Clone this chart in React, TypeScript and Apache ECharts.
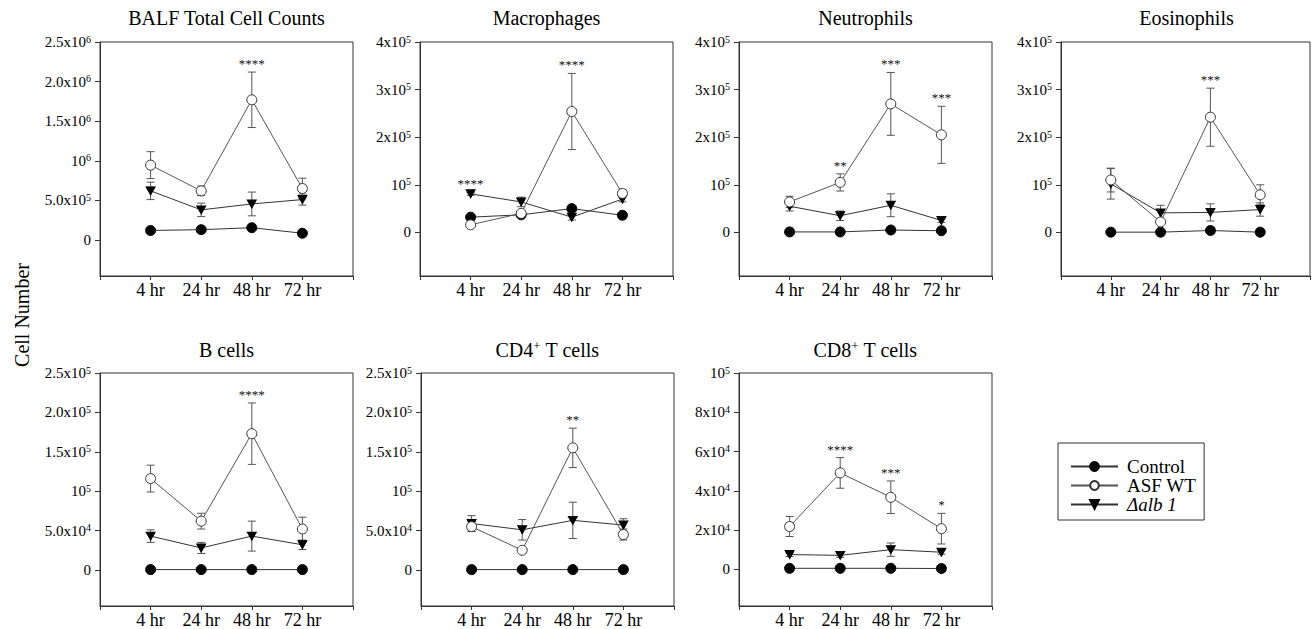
import React, { useEffect, useRef } from 'react';
import * as echarts from 'echarts';

const FONT = '"Liberation Serif", "Times New Roman", serif';

const categories = ['4 hr', '24 hr', '48 hr', '72 hr'];
const seriesNames = ['Control', 'ASF WT', 'Δalb 1'];

// BALF total
const balfControl = [1.2e5, 1.3e5, 1.55e5, 0.85e5];
const balfAsf = [9.45e5, 6.2e5, 1.77e6, 6.5e5];
const balfAsfErr = [1.7e5, 0.6e5, 3.5e5, 1.3e5];
const balfDalb = [6.2e5, 3.8e5, 4.55e5, 5.1e5];
const balfDalbErr = [1.1e5, 0.85e5, 1.5e5, 0.7e5];
const balfStars = [{ x: 3, on: 'asf', text: '****' }];
const balfTicks = [0, 5e5, 1e6, 1.5e6, 2e6, 2.5e6];
const balfTickLabels = ['0', '5.0x10^5', '10^6', '1.5x10^6', '2.0x10^6', '2.5x10^6'];

// Macrophages
const macControl = [3.2e4, 3.7e4, 5.0e4, 3.6e4];
const macAsf = [1.6e4, 4.0e4, 2.54e5, 8.2e4];
const macAsfErr = [0.2e4, 0.3e4, 8.0e4, 0.8e4];
const macDalb = [8.1e4, 6.4e4, 3.2e4, 7.0e4];
const macDalbErr = [0.3e4, 1.0e4, 0.6e4, 0.6e4];
const macStars = [{ x: 1, on: 'dalb', text: '****' }, { x: 3, on: 'asf', text: '****' }];

// Neutrophils
const neuControl = [1000, 1000, 5000, 3500];
const neuAsf = [6.4e4, 1.05e5, 2.7e5, 2.05e5];
const neuAsfErr = [1.2e4, 1.8e4, 6.6e4, 6.0e4];
const neuDalb = [5.5e4, 3.5e4, 5.7e4, 2.5e4];
const neuDalbErr = [1.0e4, 1.0e4, 2.4e4, 0.4e4];
const neuStars = [
  { x: 2, on: 'asf', text: '**' },
  { x: 3, on: 'asf', text: '***' },
  { x: 4, on: 'asf', text: '***' },
];

// Eosinophils
const eosControl = [500, 500, 4000, 500];
const eosAsf = [1.1e5, 2.2e4, 2.42e5, 7.9e4];
const eosAsfErr = [2.5e4, 0.3e4, 6.1e4, 2.1e4];
const eosDalb = [1.02e5, 4.1e4, 4.2e4, 4.8e4];
const eosDalbErr = [3.2e4, 1.6e4, 1.8e4, 1.4e4];
const eosStars = [{ x: 3, on: 'asf', text: '***' }];

const e5Ticks = [0, 1e5, 2e5, 3e5, 4e5];
const e5TickLabels = ['0', '10^5', '2x10^5', '3x10^5', '4x10^5'];

// B cells
const bControl = [500, 500, 500, 500];
const bAsf = [1.16e5, 6.2e4, 1.73e5, 5.2e4];
const bAsfErr = [1.7e4, 1.0e4, 3.9e4, 1.5e4];
const bDalb = [4.3e4, 2.8e4, 4.3e4, 3.2e4];
const bDalbErr = [0.8e4, 0.7e4, 1.9e4, 0.6e4];
const bStars = [{ x: 3, on: 'asf', text: '****' }];

// CD4 T cells
const cd4Control = [500, 500, 500, 500];
const cd4Asf = [5.5e4, 2.5e4, 1.55e5, 4.5e4];
const cd4AsfErr = [0.6e4, 0, 2.5e4, 0.7e4];
const cd4Dalb = [5.9e4, 5.1e4, 6.3e4, 5.7e4];
const cd4DalbErr = [1.0e4, 1.3e4, 2.3e4, 0.8e4];
const cd4Stars = [{ x: 3, on: 'asf', text: '**' }];

const e25Ticks = [0, 5e4, 1e5, 1.5e5, 2e5, 2.5e5];
const e25TickLabels = ['0', '5.0x10^4', '10^5', '1.5x10^5', '2.0x10^5', '2.5x10^5'];

// CD8 T cells
const cd8Control = [500, 500, 500, 400];
const cd8Asf = [2.18e4, 4.91e4, 3.67e4, 2.07e4];
const cd8AsfErr = [0.51e4, 0.78e4, 0.83e4, 0.78e4];
const cd8Dalb = [0.75e4, 0.71e4, 1.0e4, 0.87e4];
const cd8DalbErr = [0.1e4, 0.1e4, 0.34e4, 0.1e4];
const cd8Stars = [
  { x: 2, on: 'asf', text: '****' },
  { x: 3, on: 'asf', text: '***' },
  { x: 4, on: 'asf', text: '*' },
];
const cd8Ticks = [0, 2e4, 4e4, 6e4, 8e4, 1e5];
const cd8TickLabels = ['0', '2x10^4', '4x10^4', '6x10^4', '8x10^4', '10^5'];

const panels = [
  { title: 'BALF Total Cell Counts', ctrl: balfControl, asf: balfAsf, asfErr: balfAsfErr, dalb: balfDalb, dalbErr: balfDalbErr, stars: balfStars, ticks: balfTicks, labels: balfTickLabels, min: -4.55e5, max: 2.5e6 },
  { title: 'Macrophages', ctrl: macControl, asf: macAsf, asfErr: macAsfErr, dalb: macDalb, dalbErr: macDalbErr, stars: macStars, ticks: e5Ticks, labels: e5TickLabels, min: -0.916e5, max: 4e5 },
  { title: 'Neutrophils', ctrl: neuControl, asf: neuAsf, asfErr: neuAsfErr, dalb: neuDalb, dalbErr: neuDalbErr, stars: neuStars, ticks: e5Ticks, labels: e5TickLabels, min: -0.916e5, max: 4e5 },
  { title: 'Eosinophils', ctrl: eosControl, asf: eosAsf, asfErr: eosAsfErr, dalb: eosDalb, dalbErr: eosDalbErr, stars: eosStars, ticks: e5Ticks, labels: e5TickLabels, min: -0.916e5, max: 4e5 },
  { title: 'B cells', ctrl: bControl, asf: bAsf, asfErr: bAsfErr, dalb: bDalb, dalbErr: bDalbErr, stars: bStars, ticks: e25Ticks, labels: e25TickLabels, min: -0.457e5, max: 2.5e5 },
  { title: 'CD4^+ T cells', ctrl: cd4Control, asf: cd4Asf, asfErr: cd4AsfErr, dalb: cd4Dalb, dalbErr: cd4DalbErr, stars: cd4Stars, ticks: e25Ticks, labels: e25TickLabels, min: -0.457e5, max: 2.5e5 },
  { title: 'CD8^+ T cells', ctrl: cd8Control, asf: cd8Asf, asfErr: cd8AsfErr, dalb: cd8Dalb, dalbErr: cd8DalbErr, stars: cd8Stars, ticks: cd8Ticks, labels: cd8TickLabels, min: -1.87e4, max: 1e5 },
];

const layout = [
  { left: 100, top: 42, width: 253, height: 234 },
  { left: 420, top: 42, width: 253, height: 234 },
  { left: 739, top: 42, width: 253, height: 234 },
  { left: 1061, top: 42, width: 251, height: 234 },
  { left: 100, top: 373, width: 253, height: 233 },
  { left: 421, top: 373, width: 253, height: 233 },
  { left: 739, top: 373, width: 253, height: 233 },
];

function supRich(s: string, base: string, sup: string) {
  const i = s.indexOf('^');
  if (i < 0) return `{${base}|${s}}`;
  const m = s.slice(i + 1).match(/^(\S+)(.*)$/);
  const exp = m ? m[1] : s.slice(i + 1);
  const rest = m ? m[2] : '';
  return `{${base}|${s.slice(0, i)}}{${sup}|${exp}}` + (rest ? `{${base}|${rest}}` : '');
}

export default function App() {
  const ref = useRef<HTMLDivElement>(null);
  useEffect(() => {
    if (!ref.current) return;
    const chart = echarts.init(ref.current, null, { renderer: 'svg' });
    const grids: any[] = [];
    const xAxes: any[] = [];
    const yAxes: any[] = [];
    const series: any[] = [];
    const graphics: any[] = [];
    const axisColor = '#333';

    panels.forEach((p, i) => {
      const L = layout[i];
      grids.push({ ...L, show: true, borderColor: axisColor, borderWidth: 1, containLabel: false });
      xAxes.push({
        type: 'value', gridIndex: i, min: 0, max: 5, interval: 1,
        axisLine: { show: true, onZero: false, lineStyle: { color: axisColor, width: 1 } },
        axisTick: { show: true, inside: false, length: 4, lineStyle: { color: axisColor } },
        splitLine: { show: false },
        axisLabel: {
          margin: 5, fontSize: 18, fontFamily: FONT, color: '#000',
          formatter: (v: number) => (v >= 1 && v <= 4 ? categories[v - 1] : ''),
        },
      });
      yAxes.push({
        type: 'value', gridIndex: i, min: p.min, max: p.max,
        axisLine: { show: true, onZero: false, lineStyle: { color: axisColor, width: 1 } },
        axisTick: { show: true, inside: false, length: 5, customValues: p.ticks, lineStyle: { color: axisColor } },
        splitLine: { show: false },
        axisLabel: {
          customValues: p.ticks, margin: 9, color: '#000',
          formatter: (v: number) => {
            const k = p.ticks.findIndex((t) => Math.abs(t - v) < 1e-6 * Math.max(1, Math.abs(t)));
            return supRich(k >= 0 ? p.labels[k] : '', 'b', 's');
          },
          rich: {
            b: { fontSize: 15, fontFamily: FONT, color: '#000', lineHeight: 16 },
            s: { fontSize: 10, fontFamily: FONT, color: '#000', verticalAlign: 'top', lineHeight: 8 },
          },
        },
      });

      const errSeries = (vals: number[], errs: number[], name: string) => ({
        type: 'custom', name: name + ' err', xAxisIndex: i, yAxisIndex: i, z: 1, silent: true,
        data: vals.map((v, j) => [j + 1, v, errs[j]]),
        encode: { x: 0, y: 1 },
        renderItem: (params: any, api: any) => {
          const x = api.value(0), y = api.value(1), e = api.value(2);
          const t = api.coord([x, y + e]);
          const b = api.coord([x, y - e]);
          const hw = 4;
          const st = { stroke: '#555', lineWidth: 1 };
          return {
            type: 'group',
            children: [
              { type: 'line', shape: { x1: t[0], y1: t[1], x2: b[0], y2: b[1] }, style: st },
              { type: 'line', shape: { x1: t[0] - hw, y1: t[1], x2: t[0] + hw, y2: t[1] }, style: st },
              { type: 'line', shape: { x1: b[0] - hw, y1: b[1], x2: b[0] + hw, y2: b[1] }, style: st },
            ],
          };
        },
      });
      series.push(errSeries(p.asf, p.asfErr, 'asf'));
      series.push(errSeries(p.dalb, p.dalbErr, 'dalb'));

      series.push({
        type: 'line', name: seriesNames[0], xAxisIndex: i, yAxisIndex: i, z: 2, silent: true,
        data: p.ctrl.map((v, j) => [j + 1, v]),
        symbol: 'circle', symbolSize: 10, showAllSymbol: true,
        itemStyle: { color: '#000', borderColor: '#000', borderWidth: 1 },
        lineStyle: { color: '#333', width: 1 },
      });
      series.push({
        type: 'line', name: seriesNames[2], xAxisIndex: i, yAxisIndex: i, z: 3, silent: true,
        data: p.dalb.map((v, j) => [j + 1, v]),
        symbol: 'triangle', symbolRotate: 180, symbolSize: [9, 8], showAllSymbol: true,
        itemStyle: { color: '#000', borderColor: '#000', borderWidth: 1 },
        lineStyle: { color: '#333', width: 1 },
      });
      series.push({
        type: 'line', name: seriesNames[1], xAxisIndex: i, yAxisIndex: i, z: 4, silent: true,
        data: p.asf.map((v, j) => [j + 1, v]),
        symbol: 'circle', symbolSize: 10, showAllSymbol: true,
        itemStyle: { color: '#fff', borderColor: '#333', borderWidth: 1 },
        lineStyle: { color: '#555', width: 1 },
      });
      const starData = p.stars.map((s) => {
        const idx = s.x - 1;
        const anchor = s.on === 'asf' ? p.asf[idx] + p.asfErr[idx] : p.dalb[idx] + p.dalbErr[idx];
        return [s.x, anchor];
      });
      series.push({
        type: 'custom', name: 'stars', xAxisIndex: i, yAxisIndex: i, z: 5, silent: true,
        data: starData, encode: { x: 0, y: 1 },
        renderItem: (params: any, api: any) => {
          const c = api.coord([api.value(0), api.value(1)]);
          return {
            type: 'text', x: c[0], y: c[1] - 2,
            style: { text: p.stars[params.dataIndex].text, fill: '#111', font: `13px ${FONT}`, align: 'center', verticalAlign: 'bottom' },
          };
        },
      });

      const ty = i < 4 ? 18 : 350;
      graphics.push({
        type: 'text', x: L.left + L.width / 2, y: ty, silent: true,
        style: {
          text: supRich(p.title, 't', 'ts'),
          rich: {
            t: { fontSize: 20, fontFamily: FONT, fill: '#000', lineHeight: 22 },
            ts: { fontSize: 13, fontFamily: FONT, fill: '#000', verticalAlign: 'top', lineHeight: 12 },
          },
          align: 'center', verticalAlign: 'middle', textAlign: 'center', textVerticalAlign: 'middle',
        },
      });
    });

    graphics.push({
      type: 'text', x: 22, y: 315, rotation: Math.PI / 2, silent: true,
      style: {
        text: 'Cell Number', font: `20px ${FONT}`, fill: '#000',
        align: 'center', verticalAlign: 'middle', textAlign: 'center', textVerticalAlign: 'middle',
      },
    });

    chart.setOption({
      animation: false,
      textStyle: { fontFamily: FONT },
      grid: grids,
      xAxis: xAxes,
      yAxis: yAxes,
      series,
      graphic: graphics,
      legend: {
        data: seriesNames,
        left: 1058, top: 443, orient: 'vertical',
        borderColor: '#333', borderWidth: 1,
        padding: [14, 8, 6, 12],
        itemWidth: 47, itemHeight: 11, itemGap: 0,
        selectedMode: false,
        formatter: (name: string) => (name === 'Δalb 1' ? `{i|${name}}` : `{n|${name}}`),
        textStyle: {
          fontSize: 19, fontFamily: FONT, color: '#000', lineHeight: 19, padding: [0, 0, 0, 4],
          rich: {
            n: { fontSize: 19, fontFamily: FONT, color: '#000', lineHeight: 19 },
            i: { fontSize: 19, fontFamily: FONT, color: '#000', fontStyle: 'italic', lineHeight: 19 },
          },
        },
      },
    });
    return () => chart.dispose();
  }, []);
  return (
    <div
      ref={ref}
      style={{ position: 'fixed', left: 0, top: 0, width: 1313, height: 629, background: '#fff' }}
    />
  );
}
